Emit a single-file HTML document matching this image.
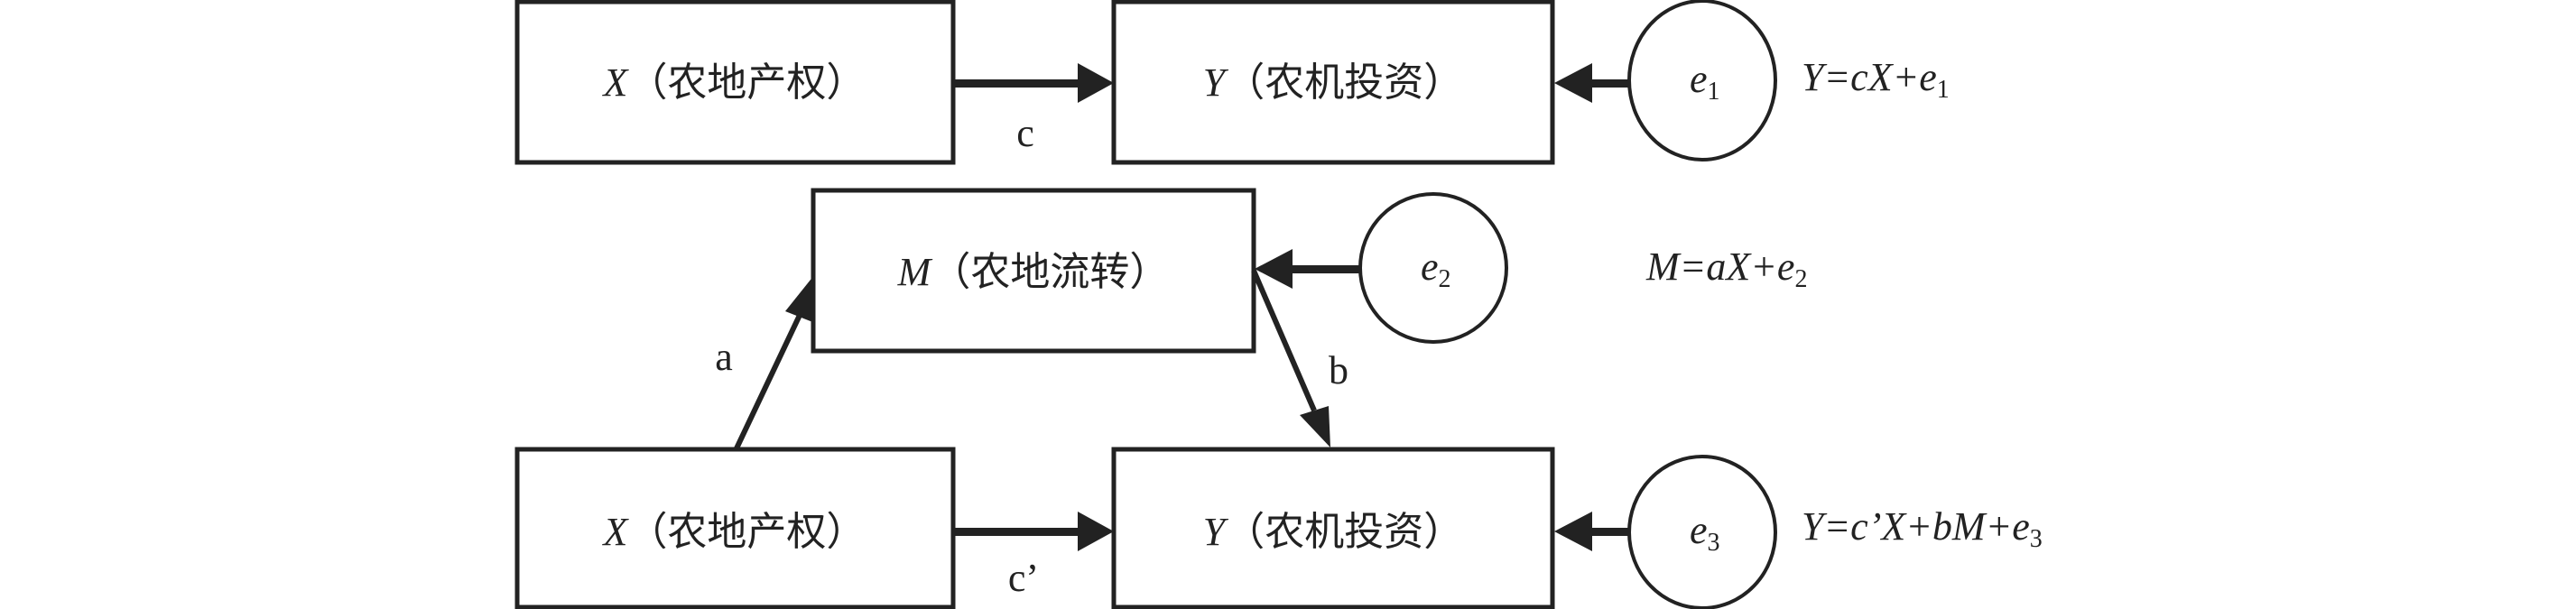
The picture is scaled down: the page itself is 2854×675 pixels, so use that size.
<!DOCTYPE html>
<html><head><meta charset="utf-8"><style>body{margin:0;background:#fff}svg{display:block}
.t{font-family:"Liberation Serif","Noto Serif CJK SC",serif;font-size:44px;fill:#222}
.c{font-family:"Liberation Serif","Noto Sans CJK SC",sans-serif;font-size:44px;fill:#222}</style></head><body>
<svg width="2854" height="675" viewBox="0 0 2854 675" xmlns="http://www.w3.org/2000/svg">
<g fill="none" stroke="#222" stroke-width="5">
<rect x="573" y="2" width="483" height="178"/>
<rect x="1234" y="2" width="486" height="178"/>
<rect x="901" y="211" width="488" height="178"/>
<rect x="573" y="498" width="483" height="175"/>
<rect x="1234" y="498" width="486" height="175"/>
<ellipse cx="1886" cy="89" rx="81" ry="88" stroke-width="4"/>
<ellipse cx="1588" cy="297" rx="81" ry="82" stroke-width="4"/>
<ellipse cx="1886" cy="590" rx="81" ry="84" stroke-width="4"/>
</g>
<g fill="#222">
<rect x="1056" y="88" width="140" height="9"/><path d="M1194,70 L1234,92 L1194,114z"/>
<rect x="1762" y="88" width="44" height="9"/><path d="M1764,70 L1722,92 L1764,114z"/>
<rect x="1430" y="294" width="78" height="9"/><path d="M1432,276 L1390,298 L1432,320z"/>
<rect x="1056" y="585" width="140" height="9"/><path d="M1194,567 L1234,589 L1194,611z"/>
<rect x="1762" y="585" width="44" height="9"/><path d="M1764,567 L1722,589 L1764,611z"/>
</g>
<g stroke="#222" stroke-width="6">
<line x1="816" y1="497" x2="888" y2="345"/>
<line x1="1389" y1="300" x2="1456" y2="455"/>
</g>
<path d="M902,305 L870,345 L903,358z" fill="#222"/>
<path d="M1474,496 L1440,460 L1472,450z" fill="#222"/>
<text class="c" x="814" y="106" text-anchor="middle"><tspan font-style="italic" font-family="Liberation Serif">X</tspan>（农地产权）</text>
<text class="c" x="1477" y="106" text-anchor="middle"><tspan font-style="italic" font-family="Liberation Serif">Y</tspan>（农机投资）</text>
<text class="c" x="1145" y="316" text-anchor="middle"><tspan font-style="italic" font-family="Liberation Serif">M</tspan>（农地流转）</text>
<text class="c" x="814" y="604" text-anchor="middle"><tspan font-style="italic" font-family="Liberation Serif">X</tspan>（农地产权）</text>
<text class="c" x="1477" y="604" text-anchor="middle"><tspan font-style="italic" font-family="Liberation Serif">Y</tspan>（农机投资）</text>
<text class="t" x="1136" y="162" text-anchor="middle">c</text>
<text class="t" x="802" y="410" text-anchor="middle">a</text>
<text class="t" x="1483" y="425" text-anchor="middle">b</text>
<text class="t" x="1134" y="655" text-anchor="middle">c’</text>
<text class="t" x="1872" y="102" font-style="italic">e<tspan font-style="normal" font-size="28" dy="8">1</tspan></text>
<text class="t" x="1574" y="310" font-style="italic">e<tspan font-style="normal" font-size="28" dy="8">2</tspan></text>
<text class="t" x="1872" y="602" font-style="italic">e<tspan font-style="normal" font-size="28" dy="8">3</tspan></text>
<text class="t" x="1996" y="100" font-style="italic">Y=cX+e<tspan font-style="normal" font-size="28" dy="8">1</tspan></text>
<text class="t" x="1824" y="310" font-style="italic">M=aX+e<tspan font-style="normal" font-size="28" dy="8">2</tspan></text>
<text class="t" x="1996" y="598" font-style="italic">Y=c’X+bM+e<tspan font-style="normal" font-size="28" dy="8">3</tspan></text>
</svg></body></html>
